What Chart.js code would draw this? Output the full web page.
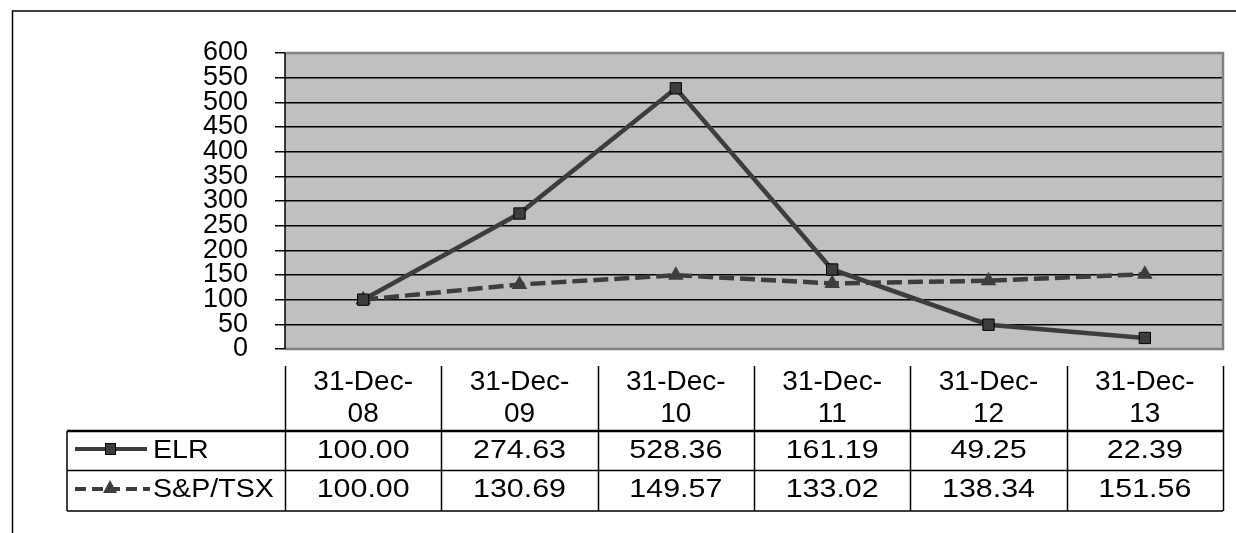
<!DOCTYPE html>
<html>
<head>
<meta charset="utf-8">
<script src="https://cdn.jsdelivr.net/npm/chart.js@4"></script>
<style>
html,body{margin:0;padding:0;background:#fff;}
#wrap{position:relative;width:1236px;height:533px;}
</style>
</head>
<body>
<div id="wrap"><canvas id="c" width="1236" height="533"></canvas></div>
<script>
const categories = [["31-Dec-","08"],["31-Dec-","09"],["31-Dec-","10"],["31-Dec-","11"],["31-Dec-","12"],["31-Dec-","13"]];
const seriesNames = ["ELR","S&P/TSX"];
const elrValues = [100.00, 274.63, 528.36, 161.19, 49.25, 22.39];
const tsxValues = [100.00, 130.69, 149.57, 133.02, 138.34, 151.56];
const yTicks = [0,50,100,150,200,250,300,350,400,450,500,550,600];

const FONT = '"Liberation Sans", Arial, sans-serif';
const LINE = '#3d3d3d';

function stretchText(ctx, text, x, y, align, sx) {
  ctx.save();
  ctx.translate(x, y);
  ctx.scale(sx, 1);
  ctx.textAlign = align;
  ctx.fillText(text, 0, 0);
  ctx.restore();
}

const tablePlugin = {
  id: 'tablePlugin',
  beforeDraw(chart) {
    const {ctx, chartArea: a} = chart;
    ctx.save();
    ctx.fillStyle = '#c0c0c0';
    ctx.fillRect(a.left, a.top, a.right - a.left, a.bottom - a.top);
    ctx.restore();
  },
  afterDraw(chart) {
    const {ctx, chartArea: a} = chart;
    const xs = chart.scales.x;
    ctx.save();
    // plot border (gray) top, right, bottom
    ctx.strokeStyle = '#808080';
    ctx.lineWidth = 2.5;
    ctx.beginPath();
    ctx.moveTo(a.left, a.top);
    ctx.lineTo(a.right, a.top);
    ctx.lineTo(a.right, a.bottom);
    ctx.lineTo(a.left, a.bottom);
    ctx.stroke();
    // left axis line
    ctx.strokeStyle = '#000';
    ctx.lineWidth = 1.5;
    ctx.beginPath();
    ctx.moveTo(a.left, a.top);
    ctx.lineTo(a.left, a.bottom);
    ctx.stroke();

    // outer frame
    ctx.lineWidth = 1.5;
    ctx.beginPath();
    ctx.moveTo(12.5, 533);
    ctx.lineTo(12.5, 11);
    ctx.lineTo(1236, 11);
    ctx.stroke();

    // table geometry
    const n = categories.length;
    const colW = (a.right - a.left) / n;
    const tTop = a.bottom + 17, hBot = 431, r1Bot = 470.5, r2Bot = 511, tLeft = 67;
    ctx.strokeStyle = '#000';
    ctx.lineWidth = 1.5;
    ctx.beginPath();
    for (let i = 0; i <= n; i++) {
      const x = Math.round(a.left + i * colW) + 0.5;
      ctx.moveTo(x, tTop);
      ctx.lineTo(x, r2Bot);
    }
    ctx.moveTo(tLeft, hBot);
    ctx.lineTo(tLeft, r2Bot);
    ctx.moveTo(tLeft, r1Bot);
    ctx.lineTo(a.right, r1Bot);
    ctx.moveTo(tLeft, r2Bot);
    ctx.lineTo(a.right, r2Bot);
    ctx.stroke();
    ctx.lineWidth = 2.5;
    ctx.beginPath();
    ctx.moveTo(tLeft, hBot);
    ctx.lineTo(a.right, hBot);
    ctx.stroke();

    // values
    ctx.fillStyle = '#000';
    ctx.font = '26px ' + FONT;
    ctx.textBaseline = 'middle';
    const rows = [elrValues, tsxValues];
    const rowY = [450.5, 490];
    rows.forEach((vals, r) => {
      vals.forEach((v, i) => {
        stretchText(ctx, v.toFixed(2), xs.getPixelForValue(i), rowY[r], 'center', 1.17);
      });
    });

    // legend names
    seriesNames.forEach((name, r) => {
      ctx.fillStyle = '#000';
      stretchText(ctx, name, 153, rowY[r], 'left', 1.1);
    });
    // ELR key
    ctx.strokeStyle = LINE;
    ctx.lineWidth = 4;
    ctx.beginPath();
    ctx.moveTo(75, 449);
    ctx.lineTo(147, 449);
    ctx.stroke();
    ctx.fillStyle = LINE;
    ctx.strokeStyle = '#000';
    ctx.lineWidth = 1;
    ctx.fillRect(105.5, 443.5, 10, 11);
    ctx.strokeRect(105.5, 443.5, 10, 11);
    // TSX key
    ctx.strokeStyle = LINE;
    ctx.lineWidth = 4;
    ctx.setLineDash([11, 6]);
    ctx.beginPath();
    ctx.moveTo(75, 489);
    ctx.lineTo(150, 489);
    ctx.stroke();
    ctx.setLineDash([]);
    ctx.fillStyle = LINE;
    ctx.beginPath();
    ctx.moveTo(110, 480);
    ctx.lineTo(117, 493);
    ctx.lineTo(103, 493);
    ctx.closePath();
    ctx.fill();
    ctx.restore();
  }
};

new Chart(document.getElementById('c'), {
  type: 'line',
  data: {
    labels: categories,
    datasets: [
      {
        label: seriesNames[0],
        data: elrValues,
        borderColor: LINE,
        borderWidth: 4.5,
        pointStyle: 'rect',
        pointRadius: 8,
        pointBackgroundColor: LINE,
        pointBorderColor: '#000',
        pointBorderWidth: 1,
        tension: 0,
        order: 1
      },
      {
        label: seriesNames[1],
        data: tsxValues,
        borderColor: LINE,
        borderWidth: 4.5,
        borderDash: [15, 6],
        pointStyle: 'triangle',
        pointRadius: 9,
        pointBackgroundColor: LINE,
        pointBorderColor: LINE,
        pointBorderWidth: 0,
        tension: 0,
        order: 2
      }
    ]
  },
  options: {
    responsive: false,
    animation: false,
    devicePixelRatio: 1,
    layout: { padding: { left: 0, top: 53, right: 13, bottom: 0 } },
    plugins: { legend: { display: false }, tooltip: { enabled: false } },
    scales: {
      x: {
        type: 'category',
        offset: true,
        grid: { display: false, drawTicks: false },
        border: { display: false },
        ticks: {
          color: '#000',
          font: { family: FONT, size: 28, lineHeight: 1.14 },
          maxRotation: 0,
          autoSkip: false,
          padding: 17
        },
        afterFit: (s) => { s.height = 184; }
      },
      y: {
        min: 0,
        max: 600,
        afterBuildTicks: (s) => { s.ticks = yTicks.map(v => ({ value: v })); },
        grid: {
          color: (c) => (c.tick && (c.tick.value === 0 || c.tick.value === 600)) ? 'rgba(0,0,0,0)' : '#000',
          tickColor: '#000',
          lineWidth: 1.5,
          tickLength: 10,
          drawTicks: true
        },
        border: { display: false },
        ticks: {
          color: '#000',
          autoSkip: false,
          font: { family: FONT, size: 27, lineHeight: 1 },
          padding: 27
        },
        afterFit: (s) => { s.width = 285; }
      }
    }
  },
  plugins: [tablePlugin]
});
</script>
</body>
</html>
